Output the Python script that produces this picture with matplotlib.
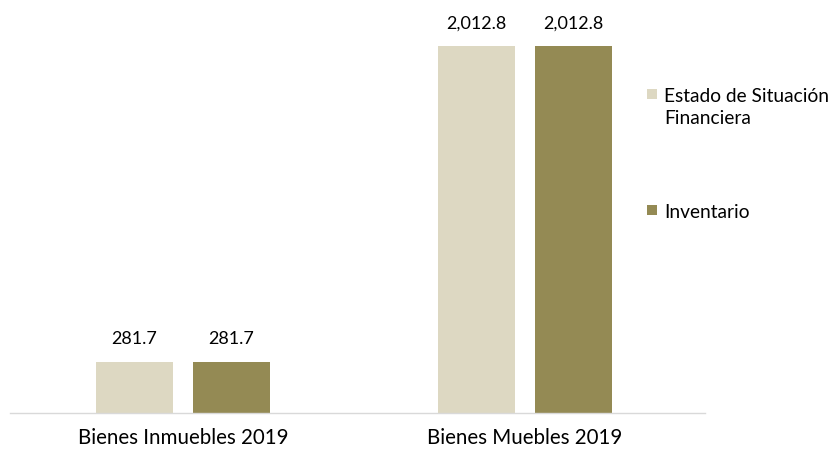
import matplotlib
matplotlib.use("Agg")
import matplotlib.pyplot as plt
from matplotlib.patches import Rectangle
import numpy as np

categories = ["Bienes Inmuebles 2019", "Bienes Muebles 2019"]
series_names = ["Estado de Situación\nFinanciera", "Inventario"]
estado = [281.7, 2012.8]
inventario = [281.7, 2012.8]
colors = ["#DDD8C2", "#948A54"]

plt.rcParams['font.family'] = ['Lato', 'DejaVu Sans']

W, H = 834, 452
fig = plt.figure(figsize=(W/100, H/100), dpi=100)
ax_left, ax_right, ax_bot, ax_top = 10, 705, 414, 20
ax = fig.add_axes([ax_left/W, (H-ax_bot)/H, (ax_right-ax_left)/W, (ax_bot-ax_top)/H])

x = np.arange(len(categories))
off = 0.142
w = 0.225
b1 = ax.bar(x - off, estado, w, color=colors[0], label=series_names[0])
b2 = ax.bar(x + off, inventario, w, color=colors[1], label=series_names[1])

for bars in (b1, b2):
    for r in bars:
        v = r.get_height()
        ax.annotate(f"{v:,.1f}", (r.get_x() + r.get_width()/2, v),
                    xytext=(0, 11), textcoords="offset points",
                    ha="center", va="bottom", fontsize=13, color="#000000")

ax.set_xlim(-0.506, 1.526)
ax.set_ylim(0, 2012.8 * (ax_bot - ax_top) / (ax_bot - 47))
ax.set_yticks([])
ax.set_xticks(x)
ax.set_xticklabels(categories, fontsize=14.8)
ax.tick_params(axis='x', length=0, pad=10)
for s in ["top", "right", "left"]:
    ax.spines[s].set_visible(False)
ax.spines["bottom"].set_color("#D9D9D9")
ax.spines["bottom"].set_linewidth(1)

# legend, drawn manually so the swatch aligns with the first text line
leg_baselines = [102, 218]  # px from top
line_h = 22
for name, col, yb in zip(series_names, colors, leg_baselines):
    fig.add_artist(Rectangle((647/W, 1 - (yb - 2)/H), 10/W, 10/H,
                             transform=fig.transFigure, color=col, lw=0))
    for i, line in enumerate(name.split("\n")):
        fig.text(664/W, 1 - (yb + i * line_h)/H, line, ha="left", va="baseline",
                 fontsize=13.8, color="#000000")

fig.savefig("out.png", dpi=100)
